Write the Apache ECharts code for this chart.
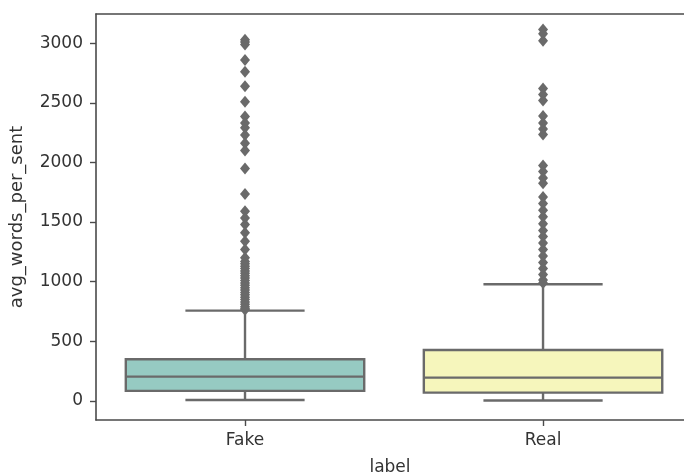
<!DOCTYPE html>
<html>
<head>
<meta charset="utf-8">
<script src="https://cdn.jsdelivr.net/npm/echarts@6/dist/echarts.min.js"></script>
<style>
  html, body { margin: 0; padding: 0; background: #ffffff; }
  #chart { width: 684px; height: 475px; }
</style>
</head>
<body>
<div id="chart"></div>
<script>
// Box statistics of avg_words_per_sent for each label
const categories = ['Fake', 'Real'];
const lowerWhisker = [8, 3];
const q1 = [84, 70];
const median = [204, 195];
const q3 = [350, 427];
const upperWhisker = [757, 978];

// Points beyond the whiskers
const fakeOutliers = [
  3030, 3010, 2990, 2860, 2760, 2640, 2510, 2385, 2330, 2290, 2230, 2160, 2100,
  1950, 1735, 1590, 1535, 1480, 1410, 1340, 1270, 1200, 1170, 1150, 1130, 1110,
  1090, 1070, 1050, 1030, 1010, 990, 970, 950, 930, 910, 890, 870, 850, 830,
  810, 790, 775, 765
];
const realOutliers = [
  3115, 3080, 3020, 2620, 2570, 2520, 2390, 2330, 2280, 2235, 1975, 1925, 1870,
  1825, 1710, 1655, 1600, 1545, 1485, 1430, 1380, 1325, 1270, 1215, 1160, 1110,
  1060, 1015, 990
];

const yTicks = [0, 500, 1000, 1500, 2000, 2500, 3000];
const xTicks = [0, 1];

const boxFill = ['#96cac2', '#f6f6bc'];
const edge = '#6a6a6a';
const spine = '#4a4a4a';

const boxData = categories.map((c, i) =>
  [i, lowerWhisker[i], q1[i], median[i], q3[i], upperWhisker[i]]);

const outlierData = []
  .concat(fakeOutliers.map(v => [0, v]))
  .concat(realOutliers.map(v => [1, v]));

function renderBox(params, api) {
  const i = api.value(0);
  const band = api.size([1, 0])[0];
  const boxW = band * 0.8;
  const capW = boxW * 0.5;
  const pLo = api.coord([i, api.value(1)]);
  const pQ1 = api.coord([i, api.value(2)]);
  const pMed = api.coord([i, api.value(3)]);
  const pQ3 = api.coord([i, api.value(4)]);
  const pHi = api.coord([i, api.value(5)]);
  const cx = pLo[0];
  const lineStyle = { stroke: edge, lineWidth: 2.4, fill: null };
  return {
    type: 'group',
    children: [
      { type: 'line', shape: { x1: cx, y1: pQ3[1], x2: cx, y2: pHi[1] }, style: lineStyle },
      { type: 'line', shape: { x1: cx, y1: pLo[1], x2: cx, y2: pQ1[1] }, style: lineStyle },
      { type: 'line', shape: { x1: cx - capW / 2, y1: pHi[1], x2: cx + capW / 2, y2: pHi[1] }, style: lineStyle },
      { type: 'line', shape: { x1: cx - capW / 2, y1: pLo[1], x2: cx + capW / 2, y2: pLo[1] }, style: lineStyle },
      {
        type: 'rect',
        shape: { x: cx - boxW / 2, y: pQ3[1], width: boxW, height: pQ1[1] - pQ3[1] },
        style: { fill: boxFill[i], stroke: edge, lineWidth: 2.4 }
      },
      { type: 'line', shape: { x1: cx - boxW / 2, y1: pMed[1], x2: cx + boxW / 2, y2: pMed[1] }, style: lineStyle }
    ]
  };
}

const chart = echarts.init(document.getElementById('chart'), null, { renderer: 'canvas' });
const fontFamily = 'DejaVu Sans';
const textStyle = { fontFamily, fontSize: 17, color: '#333' };

chart.setOption({
  animation: false,
  backgroundColor: '#ffffff',
  grid: { left: 96, top: 14, right: 0, bottom: 55, outerBoundsMode: 'none', containLabel: false },
  xAxis: [
    {
      // categorical positions on a numeric scale: each label sits at its index
      type: 'value',
      min: -0.5,
      max: 1.473,
      name: 'label',
      nameLocation: 'middle',
      nameGap: 39,
      nameTextStyle: textStyle,
      axisLine: { show: true, onZero: false, lineStyle: { color: spine, width: 1.6 } },
      axisTick: { show: true, length: 6, customValues: xTicks, lineStyle: { color: spine, width: 1.4 } },
      axisLabel: {
        ...textStyle,
        margin: 12,
        customValues: xTicks,
        formatter: v => categories[Math.round(v)]
      },
      splitLine: { show: false }
    },
    {
      type: 'value',
      position: 'top',
      min: -0.5,
      max: 1.473,
      axisLine: { show: true, onZero: false, lineStyle: { color: spine, width: 1.6 } },
      axisTick: { show: false },
      axisLabel: { show: false },
      splitLine: { show: false }
    }
  ],
  yAxis: {
    type: 'value',
    min: -160,
    max: 3245,
    name: 'avg_words_per_sent',
    nameLocation: 'middle',
    nameGap: 70,
    nameRotate: 90,
    nameTextStyle: { ...textStyle, fontSize: 18 },
    axisLine: { show: true, onZero: false, lineStyle: { color: spine, width: 1.6 } },
    axisTick: { show: true, length: 6, customValues: yTicks, lineStyle: { color: spine, width: 1.4 } },
    axisLabel: { ...textStyle, margin: 13, customValues: yTicks, formatter: v => String(v) },
    splitLine: { show: false }
  },
  series: [
    {
      type: 'custom',
      renderItem: renderBox,
      data: boxData,
      encode: { x: 0, y: [1, 2, 3, 4, 5] },
      clip: true,
      z: 2
    },
    {
      type: 'scatter',
      data: outlierData,
      symbol: 'diamond',
      symbolSize: [10, 12],
      itemStyle: { color: edge, opacity: 1 },
      z: 3
    }
  ]
});
</script>
</body>
</html>
